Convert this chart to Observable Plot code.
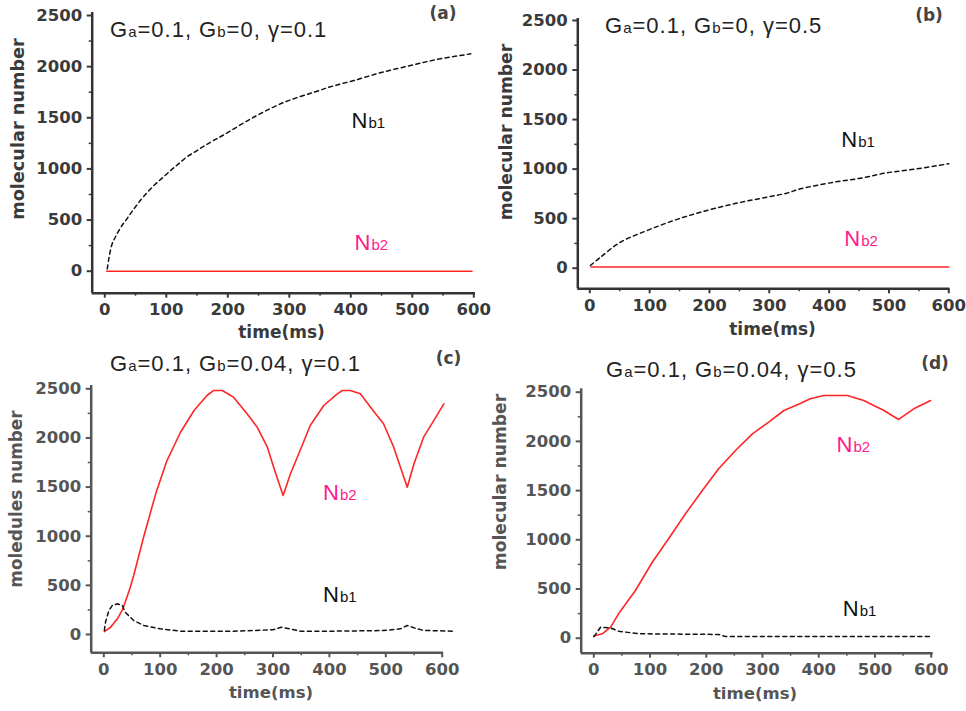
<!DOCTYPE html>
<html><head><meta charset="utf-8">
<script src="https://cdn.jsdelivr.net/npm/d3@7"></script>
<script src="https://cdn.jsdelivr.net/npm/@observablehq/plot@0.6"></script>
<style>
body{margin:0;background:#fff;}
#root{position:relative;width:966px;height:711px;overflow:hidden;background:#fff;}
#root svg{position:absolute;left:0;top:0;}
.t{position:absolute;white-space:nowrap;line-height:1;}
</style></head><body><div id="root"></div>
<script>
// ---------- ticks ----------
const xTicks = [0,100,200,300,400,500,600];
const xMinor = [50,150,250,350,450,550];
const yTicks = [0,500,1000,1500,2000,2500];
const yMinor = [250,750,1250,1750,2250];

// ---------- panel (a): Ga=0.1, Gb=0, gamma=0.1 ----------
const aT1 = [4,7,12,17,26,36,45,55,69,82,96,110,120,134,148,161,175,194,242,291,340,372,405,448,497,540,595];
const aV1 = [23,137,268,332,430,512,590,670,770,850,925,1000,1050,1120,1172,1222,1272,1335,1505,1650,1750,1812,1864,1940,2011,2070,2125];
const aT2 = [3,597];
const aV2 = [0,0];

// ---------- panel (b): Ga=0.1, Gb=0, gamma=0.5 ----------
const bT1 = [1,18,51,96,140,185,241,296,329,352,408,452,497,547,600];
const bV1 = [27,111,262,381,481,565,650,717,757,801,868,908,963,1003,1054];
const bT2 = [2,600];
const bV2 = [12,12];

// ---------- panel (c): Ga=0.1, Gb=0.04, gamma=0.1 ----------
const cT1 = [1,3,9,15,24,33,38,53,71,100,136,230,300,315,330,348,407,496,526,538,550,567,620];
const cV1 = [41,125,244,295,312,295,227,142,92,58,34,34,48,74,58,34,34,40,58,92,68,41,34];
const cT2 = [1,12,24,33,41,47,53,71,92,112,136,160,183,195,210,230,254,272,290,304,318,331,348,366,390,414,423,437,455,473,496,514,526,538,550,567,585,603];
const cV2 = [30,74,160,250,380,480,600,1000,1431,1770,2058,2279,2432,2483,2483,2415,2246,2109,1906,1651,1414,1635,1872,2127,2330,2449,2483,2483,2449,2313,2144,1906,1702,1499,1737,2008,2177,2347];

// ---------- panel (d): Ga=0.1, Gb=0.04, gamma=0.5 ----------
const dT1 = [0,6,12,30,44,80,222,234,599];
const dV1 = [17,61,112,105,71,45,38,17,17];
const dT2 = [0,3,15,30,44,74,104,133,163,193,222,252,282,311,338,365,385,409,451,480,516,542,569,599];
const dV2 = [17,27,45,112,248,485,772,1010,1264,1501,1722,1908,2077,2195,2314,2380,2433,2467,2467,2416,2314,2223,2331,2416];

// ---------- curve labels (time, value) for Nb1 and Nb2 ----------
const labT = {a:[427,432], b:[447,452], c:[417,417], d:[471,460]};
const labV = {a:[1465,272], b:[1291,292], c:[399,1441], d:[301,1967]};

// ---------- titles ----------
const titleGa = ["0.1","0.1","0.1","0.1"];
const titleGb = ["0","0","0.04","0.04"];
const titleGamma = ["0.1","0.5","0.1","0.5"];
const panelLetters = ["(a)","(b)","(c)","(d)"];
const yLabels = ["molecular number","molecular number","moledules number","molecular number"];
const xLabel = "time(ms)";

// ---------- layout (pixel frames) ----------
const layout = [
  {axL:91.7, axR:475, axT:12, axB:292.7, x0:104.3, x600:473.3, y0:270.7, y2500:15, ink:"#333", tick:"#3a3a3a", curve:"catmull-rom",
   title:[110,37.3], letter:[443,19.7], ylab:[19,129,17.7], xlab:[281.5,338,17]},
  {axL:577.3, axR:949.3, axT:18, axB:288.3, x0:589.3, x600:948.3, y0:267.7, y2500:20, ink:"#333", tick:"#3a3a3a", curve:"catmull-rom",
   title:[605,34], letter:[929,21.7], ylab:[506.5,131.5,17.2], xlab:[772.5,335,17]},
  {axL:90.7, axR:443, axT:385, axB:652.3, x0:103.3, x600:441.7, y0:634, y2500:388.3, ink:"#555", tick:"#555", curve:"linear",
   title:[110,371.7], letter:[448.5,364.5], ylab:[16,498.5,16.9], xlab:[271,699,16.5]},
  {axL:580.7, axR:932.7, axT:388.3, axB:652.7, x0:593.3, x600:930.7, y0:637.7, y2500:391.7, ink:"#555", tick:"#555", curve:"linear",
   title:[606,377.3], letter:[935,369.5], ylab:[501,481.5,17.2], xlab:[755,700,16.5]}
];

const series = [
  {t1:aT1,v1:aV1,t2:aT2,v2:aV2,lt:labT.a,lv:labV.a},
  {t1:bT1,v1:bV1,t2:bT2,v2:bV2,lt:labT.b,lv:labV.b},
  {t1:cT1,v1:cV1,t2:cT2,v2:cV2,lt:labT.c,lv:labV.c},
  {t1:dT1,v1:dV1,t2:dT2,v2:dV2,lt:labT.d,lv:labV.d}
];

const root = document.getElementById("root");
const W = 966, H = 711;

function makePanel(s, f) {
  const kx = (f.x600 - f.x0) / 600, ky = (f.y0 - f.y2500) / 2500;
  const xd = [(f.axL - f.x0) / kx, (f.axR - f.x0) / kx];
  const yd = [(f.y0 - f.axB) / ky, (f.y0 - f.axT) / ky];
  const nb1 = s.t1.map((t, i) => ({t, v: s.v1[i]}));
  const nb2 = s.t2.map((t, i) => ({t, v: s.v2[i]}));
  const l1 = [{t: s.lt[0], v: s.lv[0], sub: "b1"}];
  const l2 = [{t: s.lt[1], v: s.lv[1], sub: "b2"}];
  const fmt = d => String(d);
  const lf = '"Liberation Sans", Arial, sans-serif';
  return Plot.plot({
    width: W, height: H,
    marginLeft: f.axL, marginRight: W - f.axR, marginTop: f.axT, marginBottom: H - f.axB,
    x: {domain: xd}, y: {domain: yd},
    style: {fontFamily: '"DejaVu Sans", sans-serif', fontWeight: "bold", color: f.tick, background: "none", overflow: "visible"},
    marks: [
      Plot.axisX(xTicks, {anchor: "bottom", tickSize: 5, tickPadding: 5, fontSize: 16.5, tickFormat: fmt, label: null, strokeWidth: 2}),
      Plot.axisX(xMinor, {anchor: "bottom", tickSize: 3, tickFormat: () => "", label: null, strokeWidth: 1.5}),
      Plot.axisY(yTicks, {anchor: "left", tickSize: 5, tickPadding: 5, fontSize: 16.5, tickFormat: fmt, label: null, strokeWidth: 2}),
      Plot.axisY(yMinor, {anchor: "left", tickSize: 3, tickFormat: () => "", label: null, strokeWidth: 1.5}),
      Plot.ruleX([xd[0]], {stroke: f.ink, strokeWidth: 2.5}),
      Plot.ruleY([yd[0]], {stroke: f.ink, strokeWidth: 2.5}),
      Plot.line(nb2, {x: "t", y: "v", stroke: "#ff2626", strokeWidth: 1.6, curve: f.curve}),
      Plot.line(nb1, {x: "t", y: "v", stroke: "#111", strokeWidth: 1.5, strokeDasharray: "4,3.5", curve: f.curve}),
      Plot.text(l1, {x: "t", y: "v", text: () => "N", textAnchor: "end", fontSize: 22, fontWeight: "normal", fontFamily: lf, fill: "#111"}),
      Plot.text(l1, {x: "t", y: "v", text: "sub", textAnchor: "start", fontSize: 15, fontWeight: "normal", fontFamily: lf, fill: "#111", dy: 2.2, dx: 1}),
      Plot.text(l2, {x: "t", y: "v", text: () => "N", textAnchor: "end", fontSize: 22, fontWeight: "normal", fontFamily: lf, fill: "#ff1a8c"}),
      Plot.text(l2, {x: "t", y: "v", text: "sub", textAnchor: "start", fontSize: 15, fontWeight: "normal", fontFamily: lf, fill: "#ff1a8c", dy: 2.2, dx: 1})
    ]
  });
}

function addText(html, x, baseline, fs, css) {
  const d = document.createElement("div");
  d.className = "t";
  d.innerHTML = html;
  d.style.left = x + "px";
  d.style.top = (baseline - 0.846 * fs) + "px";
  d.style.fontSize = fs + "px";
  Object.assign(d.style, css || {});
  root.appendChild(d);
  return d;
}

layout.forEach((f, i) => {
  root.appendChild(makePanel(series[i], f));
  const sub = s => `<span style="font-size:15px">${s}</span>`;
  addText(`G${sub("a")}=${titleGa[i]}, G${sub("b")}=${titleGb[i]}, γ=${titleGamma[i]}`,
    f.title[0], f.title[1], 22,
    {fontFamily: '"Liberation Sans", Arial, sans-serif', color: "#222", letterSpacing: "1px"});
  addText(panelLetters[i], f.letter[0], f.letter[1], 17,
    {fontFamily: '"DejaVu Sans", sans-serif', fontWeight: "bold", color: "#444", transform: "translateX(-50%)"});
  const yl = document.createElement("div");
  yl.className = "t";
  yl.textContent = yLabels[i];
  Object.assign(yl.style, {left: f.ylab[0] + "px", top: f.ylab[1] + "px", fontSize: f.ylab[2] + "px",
    fontFamily: '"DejaVu Sans", sans-serif', fontWeight: "bold", color: f.tick,
    transform: "translate(-50%,-50%) rotate(-90deg)"});
  root.appendChild(yl);
  addText(xLabel, f.xlab[0], f.xlab[1], f.xlab[2],
    {fontFamily: '"DejaVu Sans", sans-serif', fontWeight: "bold", color: f.tick, transform: "translateX(-50%)"});
});
</script></body></html>
